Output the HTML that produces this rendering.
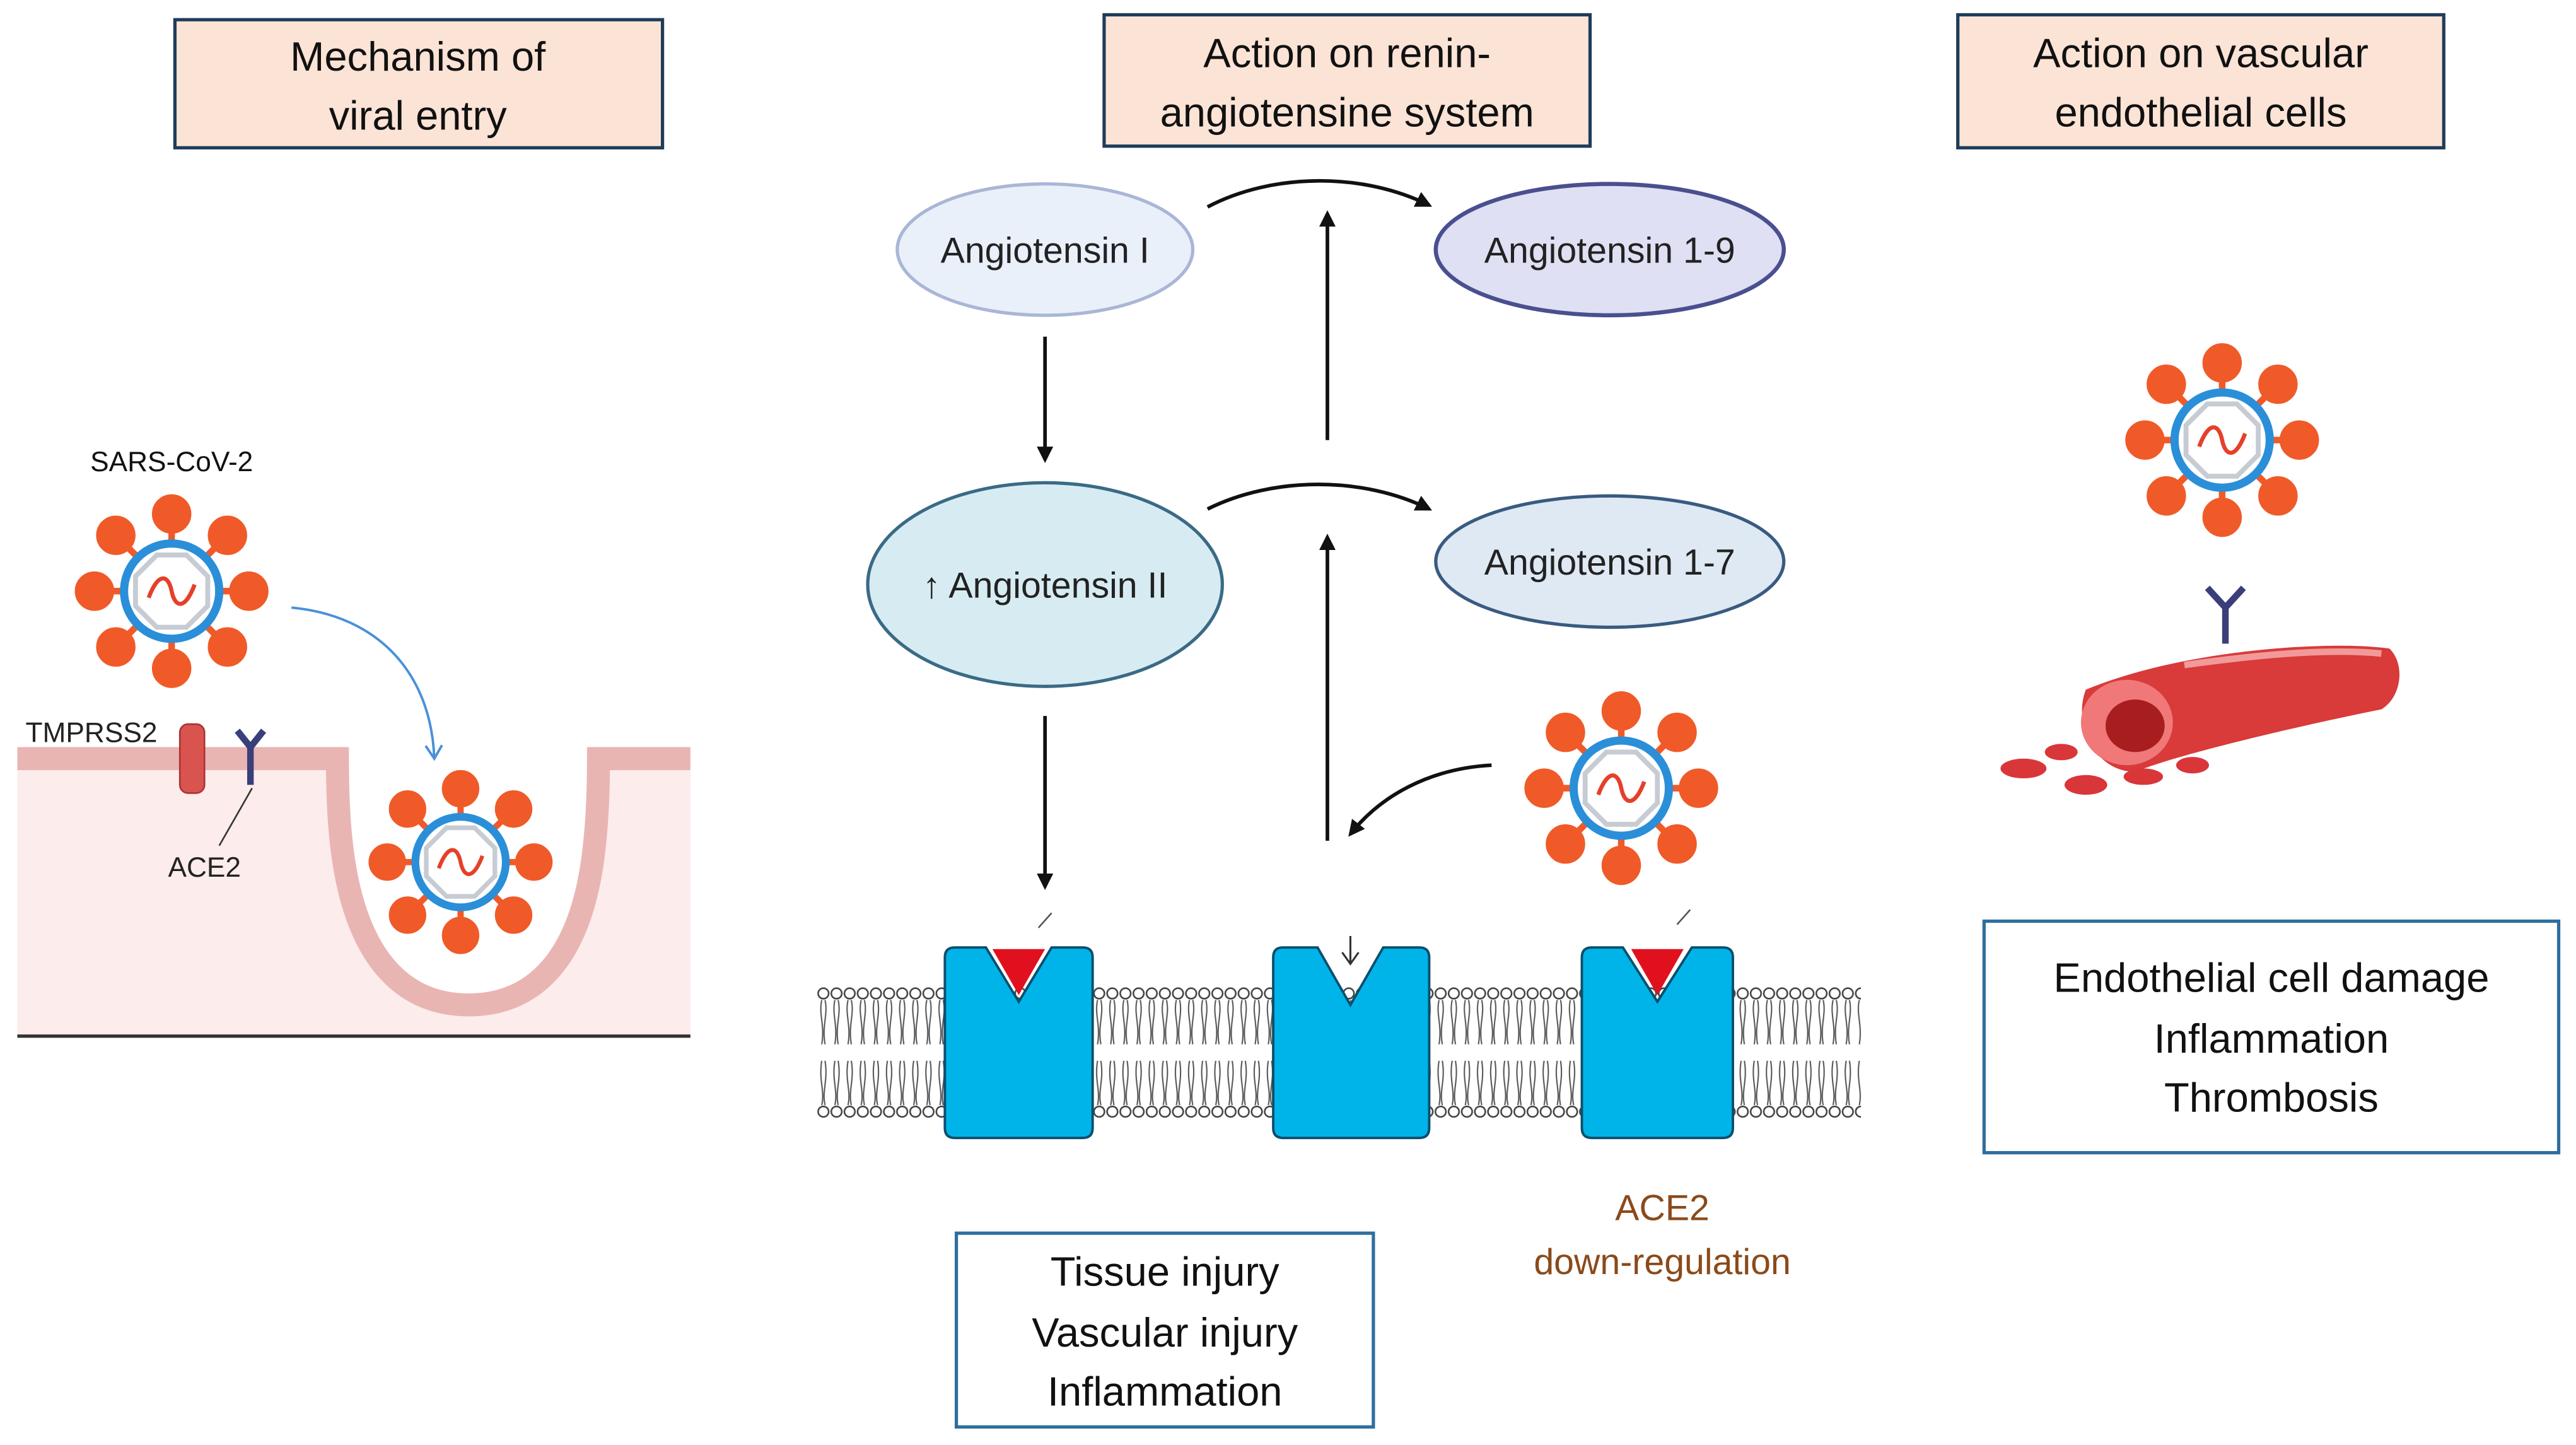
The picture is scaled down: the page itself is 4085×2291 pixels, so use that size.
<!DOCTYPE html>
<html><head><meta charset="utf-8"><style>
html,body{margin:0;padding:0;background:#fff;}
svg{display:block;}
text{font-family:"Liberation Sans",sans-serif;}
</style></head><body>
<svg width="4085" height="2291" viewBox="0 0 1568 880" xmlns="http://www.w3.org/2000/svg">
<defs>
<marker id="ah" markerWidth="10" markerHeight="10" refX="8" refY="5" orient="auto" markerUnits="userSpaceOnUse">
<path d="M0,0 L10,5 L0,10 z" fill="#111"/></marker>
<marker id="ahb" markerWidth="12" markerHeight="12" refX="9" refY="6" orient="auto" markerUnits="userSpaceOnUse">
<path d="M1,1 L9,6 L1,11" fill="none" stroke="#4a90d9" stroke-width="1.5"/></marker>
<g id="virus">
<g stroke="#f05a28" stroke-width="4" fill="#f05a28">
<line x1="0" y1="0" x2="0" y2="-45"/><circle cx="0" cy="-47" r="10"/>
<line x1="0" y1="0" x2="0" y2="45"/><circle cx="0" cy="47" r="10"/>
<line x1="0" y1="0" x2="-45" y2="0"/><circle cx="-47" cy="0" r="10"/>
<line x1="0" y1="0" x2="45" y2="0"/><circle cx="47" cy="0" r="10"/>
<line x1="0" y1="0" x2="-32" y2="-32"/><circle cx="-34" cy="-34" r="10"/>
<line x1="0" y1="0" x2="32" y2="-32"/><circle cx="34" cy="-34" r="10"/>
<line x1="0" y1="0" x2="-32" y2="32"/><circle cx="-34" cy="34" r="10"/>
<line x1="0" y1="0" x2="32" y2="32"/><circle cx="34" cy="34" r="10"/>
</g>
<circle r="29" fill="#fff" stroke="#2a8fd8" stroke-width="5"/>
<polygon points="-9,-22 9,-22 22,-9 22,9 9,22 -9,22 -22,9 -22,-9" fill="#fff" stroke="#c7cbd3" stroke-width="3"/>
<path d="M-14,4 C-8,-12 -2,-10 0,0 C2,10 8,12 14,-4" fill="none" stroke="#e5402a" stroke-width="2.5"/>
</g>
<pattern id="lipid" x="497" y="600" width="8" height="82" patternUnits="userSpaceOnUse">
<circle cx="4" cy="5" r="3.2" fill="#fff" stroke="#444" stroke-width="1"/>
<path d="M3,9 C1,18 5,24 3,36 M5,9 C7,18 3,24 5,36" stroke="#555" fill="none" stroke-width="0.8"/>
<path d="M3,46 C1,58 5,64 3,73 M5,46 C7,58 3,64 5,73" stroke="#555" fill="none" stroke-width="0.8"/>
<circle cx="4" cy="77" r="3.2" fill="#fff" stroke="#444" stroke-width="1"/>
</pattern>
</defs>

<!-- header boxes -->
<rect x="106" y="12" width="297" height="78" fill="#fbe3d6" stroke="#1f3c5a" stroke-width="2"/>
<text x="254" y="43" font-size="25" text-anchor="middle" fill="#111">Mechanism of</text>
<text x="254" y="79" font-size="25" text-anchor="middle" fill="#111">viral entry</text>
<rect x="672" y="9" width="296" height="80" fill="#fbe3d6" stroke="#1f3c5a" stroke-width="2"/>
<text x="820" y="41" font-size="25" text-anchor="middle" fill="#111">Action on renin-</text>
<text x="820" y="77" font-size="25" text-anchor="middle" fill="#111">angiotensine system</text>
<rect x="1192" y="9" width="296" height="81" fill="#fbe3d6" stroke="#1f3c5a" stroke-width="2"/>
<text x="1340" y="41" font-size="25" text-anchor="middle" fill="#111">Action on vascular</text>
<text x="1340" y="77" font-size="25" text-anchor="middle" fill="#111">endothelial cells</text>

<!-- left panel -->
<text x="104" y="287" font-size="17" text-anchor="middle" fill="#111">SARS-CoV-2</text>
<path d="M10,455 L205,455 C210,455 210,465 212,500 C218,585 250,610 285,610 C325,610 350,585 357,500 C359,465 360,455 366,455 L420,455 L420,632 L10,632 Z" fill="#fcecec"/>
<path d="M10,462 L205,462 C205,470 205,490 207,510 C215,590 250,612 285,612 C320,612 355,590 362,510 C364,490 364,470 364,462 L420,462" fill="none" stroke="#e9b5b3" stroke-width="14"/>
<line x1="10" y1="631" x2="420" y2="631" stroke="#333" stroke-width="2"/>
<rect x="109" y="441" width="15" height="42" rx="5" fill="#d9534f" stroke="#a33" stroke-width="1"/>
<text x="15" y="452" font-size="17" fill="#222">TMPRSS2</text>
<path d="M144,445 L152,455 L160,445" fill="none" stroke="#3a3f7a" stroke-width="4"/>
<line x1="152" y1="455" x2="152" y2="478" stroke="#3a3f7a" stroke-width="4"/>
<line x1="153" y1="480" x2="133" y2="515" stroke="#333" stroke-width="1"/>
<text x="124" y="534" font-size="17" text-anchor="middle" fill="#222">ACE2</text>
<use href="#virus" x="104" y="360"/>
<path d="M177,370 C230,375 262,410 264,462" fill="none" stroke="#4a90d9" stroke-width="1.5" marker-end="url(#ahb)"/>
<use href="#virus" x="280" y="525" transform="translate(280,525) scale(0.95) translate(-280,-525)"/>

<!-- ellipses -->
<ellipse cx="636" cy="152" rx="90" ry="40" fill="#eaf0f9" stroke="#a9b6d6" stroke-width="2"/>
<text x="636" y="160" font-size="22" text-anchor="middle" fill="#222">Angiotensin I</text>
<ellipse cx="980" cy="152" rx="106" ry="40" fill="#dfe0f3" stroke="#4a4f8f" stroke-width="2.5"/>
<text x="980" y="160" font-size="22" text-anchor="middle" fill="#222">Angiotensin 1-9</text>
<ellipse cx="636" cy="356" rx="108" ry="62" fill="#d7ecf2" stroke="#3a6a86" stroke-width="2"/>
<text x="636" y="364" font-size="22" text-anchor="middle" fill="#222">↑ Angiotensin II</text>
<ellipse cx="980" cy="342" rx="106" ry="40" fill="#dfe9f4" stroke="#3a5a80" stroke-width="2"/>
<text x="980" y="350" font-size="22" text-anchor="middle" fill="#222">Angiotensin 1-7</text>

<!-- arrows -->
<g stroke="#111" stroke-width="2.2" fill="none">
<line x1="636" y1="205" x2="636" y2="280" marker-end="url(#ah)"/>
<path d="M735,126 C775,105 830,105 870,125" marker-end="url(#ah)"/>
<line x1="808" y1="268" x2="808" y2="130" marker-end="url(#ah)"/>
<path d="M735,310 C775,290 830,290 870,310" marker-end="url(#ah)"/>
<line x1="808" y1="512" x2="808" y2="327" marker-end="url(#ah)"/>
<line x1="636" y1="436" x2="636" y2="540" marker-end="url(#ah)"/>
<path d="M908,466 C870,468 840,485 822,508" marker-end="url(#ah)"/>
</g>

<!-- membrane -->
<rect x="497" y="600" width="636" height="82" fill="url(#lipid)"/>
<g fill="#00b4ea" stroke="#0b4f6c" stroke-width="1.5">
<path d="M581,577 L600,577 L620,610 L640,577 L659,577 Q665,577 665,583 L665,687 Q665,693 659,693 L581,693 Q575,693 575,687 L575,583 Q575,577 581,577 Z"/>
<path d="M781,577 L802,577 L822,612 L842,577 L864,577 Q870,577 870,583 L870,687 Q870,693 864,693 L781,693 Q775,693 775,687 L775,583 Q775,577 781,577 Z"/>
<path d="M969,577 L988,577 L1009,610 L1030,577 L1049,577 Q1055,577 1055,583 L1055,687 Q1055,693 1049,693 L969,693 Q963,693 963,687 L963,583 Q963,577 969,577 Z"/>
</g>
<polygon points="604,578 636,578 620,606" fill="#e0101e"/>
<polygon points="993,578 1025,578 1009,606" fill="#e0101e"/>
<line x1="632" y1="565" x2="640" y2="556" stroke="#555" stroke-width="1"/>
<line x1="1021" y1="563" x2="1029" y2="554" stroke="#555" stroke-width="1"/>
<path d="M822,570 L822,586 M817,580 L822,587 L827,580" stroke="#333" stroke-width="1.2" fill="none"/>
<use href="#virus" x="987" y="480"/>

<text x="1012" y="743" font-size="22" text-anchor="middle" fill="#8b4a1a">ACE2</text>
<text x="1012" y="776" font-size="22" text-anchor="middle" fill="#8b4a1a">down-regulation</text>

<rect x="582" y="751" width="254" height="118" fill="#fff" stroke="#2e6e9e" stroke-width="2"/>
<text x="709" y="783" font-size="25" text-anchor="middle" fill="#111">Tissue injury</text>
<text x="709" y="820" font-size="25" text-anchor="middle" fill="#111">Vascular injury</text>
<text x="709" y="856" font-size="25" text-anchor="middle" fill="#111">Inflammation</text>

<!-- right panel -->
<use href="#virus" x="1353" y="268"/>
<path d="M1344,358 L1355,370 L1366,358" fill="none" stroke="#3a3f7a" stroke-width="4"/>
<line x1="1355" y1="370" x2="1355" y2="392" stroke="#3a3f7a" stroke-width="4"/>
<path d="M1270,420 C1330,395 1420,390 1455,395 C1465,405 1462,425 1450,432 C1410,440 1330,458 1300,470 C1275,470 1262,440 1270,420 Z" fill="#d93a3a"/>
<ellipse cx="1295" cy="440" rx="28" ry="26" fill="#f07878"/>
<ellipse cx="1300" cy="442" rx="18" ry="16" fill="#a81e1e"/>
<path d="M1330,405 C1380,398 1420,395 1450,398" stroke="#f29a9a" stroke-width="4" fill="none"/>
<g fill="#d9363a">
<ellipse cx="1232" cy="468" rx="14" ry="6"/><ellipse cx="1270" cy="478" rx="13" ry="6"/>
<ellipse cx="1305" cy="473" rx="12" ry="5"/><ellipse cx="1255" cy="458" rx="10" ry="5"/>
<ellipse cx="1335" cy="466" rx="10" ry="5"/></g>

<rect x="1208" y="561" width="350" height="141" fill="#fff" stroke="#2e6e9e" stroke-width="2"/>
<text x="1383" y="604" font-size="25" text-anchor="middle" fill="#111">Endothelial cell damage</text>
<text x="1383" y="641" font-size="25" text-anchor="middle" fill="#111">Inflammation</text>
<text x="1383" y="677" font-size="25" text-anchor="middle" fill="#111">Thrombosis</text>
</svg>
</body></html>
